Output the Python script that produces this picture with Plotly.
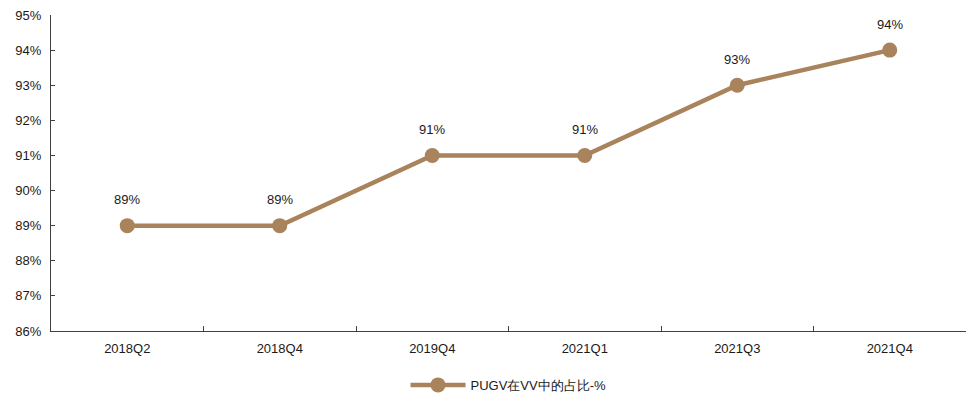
import plotly.graph_objects as go

quarters = ["2018Q2", "2018Q4", "2019Q4", "2021Q1", "2021Q3", "2021Q4"]
pugv_share = [89, 89, 91, 91, 93, 94]
y_ticks = list(range(86, 96))

color = "#A8835B"
font = "Liberation Sans, Arial, sans-serif"

fig = go.Figure()
fig.add_trace(go.Scatter(
    x=quarters, y=pugv_share, mode="lines+markers",
    name="PUGV在VV中的占比-%",
    line=dict(color=color, width=4.5),
    marker=dict(color=color, size=15),
))

for q, v in zip(quarters, pugv_share):
    fig.add_annotation(x=q, y=v, text=f"{v}%", showarrow=False, yshift=26,
                       font=dict(size=13, color="#1a1a1a", family=font))

fig.update_layout(
    width=970, height=394,
    margin=dict(l=51, r=4, t=15, b=63, autoexpand=False),
    paper_bgcolor="white", plot_bgcolor="white",
    font=dict(family=font, size=13, color="#1a1a1a"),
    showlegend=True,
    legend=dict(orientation="h", x=0.5, xanchor="center", yref="container",
                y=0.023, yanchor="middle", font=dict(size=13), itemwidth=55),
    xaxis=dict(type="category", tickson="boundaries", ticks="inside", ticklen=5,
               tickcolor="#404040", showline=True, linecolor="#404040", linewidth=1.3,
               showgrid=False, range=[-0.5, 5.5], zeroline=False, ticklabelstandoff=5),
    yaxis=dict(range=[86, 95], tickvals=y_ticks, ticktext=[f"{t}%" for t in y_ticks],
               ticks="inside", ticklen=4, tickcolor="#404040", showline=True,
               linecolor="#404040", linewidth=1.3, showgrid=False, zeroline=False,
               ticklabelstandoff=6),
)

fig.write_html("out.html")
